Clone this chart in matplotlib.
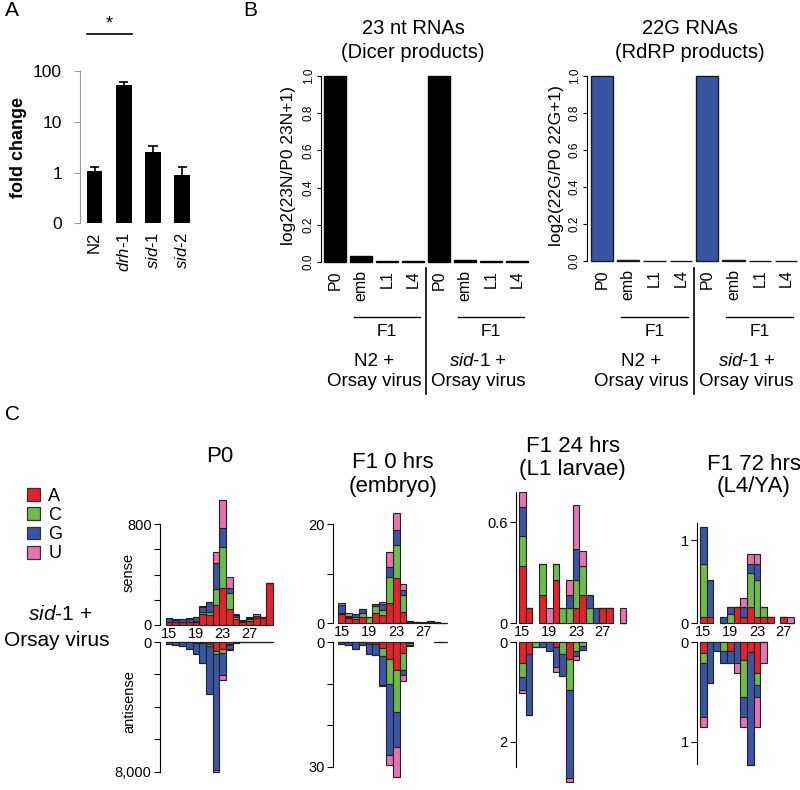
import numpy as np
import matplotlib
matplotlib.use('Agg')
import matplotlib.pyplot as plt
from matplotlib.patches import Patch

plt.rcParams['font.family'] = ['Liberation Sans', 'DejaVu Sans']
plt.rcParams['mathtext.fontset'] = 'custom'
plt.rcParams['mathtext.rm'] = 'Liberation Sans'
plt.rcParams['mathtext.it'] = 'Liberation Sans:italic'
plt.rcParams['mathtext.bf'] = 'Liberation Sans:bold'

# ---------------- data ----------------
# Panel A: fold change (log scale)
a_strains = ['N2', r'$\mathit{drh}$-$\mathit{1}$', r'$\mathit{sid}$-$\mathit{1}$', r'$\mathit{sid}$-$\mathit{2}$']
a_fold_change = [1.05, 53.0, 2.55, 0.88]
a_error_upper = [1.27, 62.0, 3.3, 1.29]

# Panel B
b_stages = ['P0', 'emb', 'L1', 'L4', 'P0', 'emb', 'L1', 'L4']
b_23nt = [1.0, 0.03, 0.005, 0.003, 1.0, 0.012, 0.004, 0.003]
b_22g = [1.0, 0.003, 0.002, 0.002, 1.0, 0.003, 0.002, 0.002]
b_group_top = ['N2 +', r'$\mathit{sid}$-$\mathit{1}$ +']
b_group_bottom = ['Orsay virus', 'Orsay virus']

# Panel C: read length 15..30, rows = A, C, G, U ; nan = no bar
c_lengths = np.arange(15, 31)
c_nucleotides = ['A', 'C', 'G', 'U']
nan = np.nan
p0_sense = [
    [20, 20, 20, 20, 25, 85, 80, 158, 290, 127, 45, 25, 30, 55, 55, 330],
    [5, 5, 5, 5, 6, 18, 26, 125, 330, 124, 15, 5, 20, 0, 5, 0],
    [28, 17, 20, 25, 30, 40, 74, 211, 145, 40, 20, 5, 8, 15, 4, 0],
    [5, 5, 5, 5, 5, 7, 5, 82, 224, 87, 7, 5, 5, 14, 2, 0],
]
p0_antisense = [
    [20, 20, 20, 30, 40, 50, 150, 550, 450, 150, 20, 0, 0, 0, 0, 0],
    [0, 0, 0, 0, 0, 0, 100, 200, 250, 50, 0, 0, 0, 0, 0, 0],
    [100, 140, 230, 420, 700, 1250, 2960, 7150, 1340, 250, 30, 0, 0, 0, 0, 0],
    [0, 0, 0, 0, 0, 0, 0, 100, 310, 50, 0, 0, 0, 0, 0, 0],
]
f1_0h_sense = [
    [1.9, 1.0, 0.8, 1.2, 0, 2.0, 1.7, 4.0, 9.1, 2.3, 0.3, 0.2, 0.1, 0.3, 0.1, 0.1],
    [0.1, 0.3, 0.5, 0.9, 1.2, 1.5, 1.0, 5.4, 6.7, 3.4, 0, 0, 0, 0, 0, 0],
    [1.6, 0.2, 0.6, 0.8, 0, 0.4, 1.1, 2.0, 2.9, 1.1, 0.15, 0.1, 0.1, 0.2, 0.1, 0.05],
    [0.4, 0.5, 0, 0, 0, 0, 0.4, 3.0, 3.6, 1.2, 0, 0, 0, 0, 0, 0],
]
f1_0h_antisense = [
    [0, 0, 0, 0, 0.4, 0.4, 1.5, 4.2, 6.7, 2.7, 0.2, nan, nan, nan, 0, 0],
    [0, 0, 0, 0, 0, 0, 1.8, 5.8, 10.2, 4.0, 0.6, nan, nan, nan, 0, 0],
    [0.5, 0.8, 1.8, 0.8, 2.6, 2.8, 7.0, 17.1, 8.3, 1.2, 0.2, nan, nan, nan, 0, 0],
    [0, 0, 0, 0, 0, 0, 0.4, 2.4, 7.2, 1.6, 0, nan, nan, nan, 0, 0],
]
f1_24h_sense = [
    [0.34, 0.09, nan, 0.17, 0, 0.26, 0, 0, 0.09, 0.17, 0, 0, 0.09, 0.09, nan, 0],
    [0.18, 0, nan, 0.18, 0, 0.09, 0.09, 0.09, 0.17, 0.17, 0.09, 0, 0, 0, nan, 0],
    [0.17, 0, nan, 0, 0, 0, 0, 0.08, 0.18, 0, 0.08, 0.09, 0, 0, nan, 0],
    [0.09, 0, nan, 0, 0.09, 0, 0, 0.09, 0.26, 0.09, 0, 0, 0, 0, nan, 0.09],
]
f1_24h_antisense = [
    [0.42, 0.23, 0, 0, 0, 0.09, 0, 0.34, 0, 0, nan, nan, nan, nan, nan, nan],
    [0.27, 0, 0.09, 0, 0, 0, 0.23, 0.62, 0.17, 0.07, nan, nan, nan, nan, nan, nan],
    [0.26, 1.23, 0, 0.09, 0.17, 0.40, 0.45, 1.77, 0.10, 0.08, nan, nan, nan, nan, nan, nan],
    [0.08, 0, 0, 0, 0, 0.10, 0, 0.08, 0.08, 0, nan, nan, nan, nan, nan, nan],
]
f1_72h_sense = [
    [0.08, 0.08, nan, 0, 0, 0.19, 0.08, 0.19, 0.08, 0.08, 0.08, nan, 0.08, 0, nan, nan],
    [0.63, 0, nan, 0, 0.11, 0, 0, 0.41, 0.44, 0.11, 0, nan, 0, 0, nan, nan],
    [0.45, 0.44, nan, 0.08, 0.08, 0, 0.11, 0.11, 0.19, 0, 0, nan, 0, 0, nan, nan],
    [0, 0, nan, 0, 0, 0, 0.11, 0.12, 0.12, 0, 0, nan, 0, 0.08, nan, nan],
]
f1_72h_antisense = [
    [0.11, 0, 0, 0, 0.09, 0, 0.18, 0.10, 0.31, 0, nan, nan, nan, nan, nan, nan],
    [0.10, 0, 0, 0.09, 0, 0, 0.37, 0, 0.12, 0, nan, nan, nan, nan, nan, nan],
    [0.54, 0.41, 0.09, 0.12, 0.12, 0.21, 0.20, 1.13, 0.12, 0, nan, nan, nan, nan, nan, nan],
    [0.10, 0, 0, 0, 0, 0.10, 0.10, 0, 0.30, 0.21, nan, nan, nan, nan, nan, nan],
]

nt_colors = ['#E8202A', '#6CBD45', '#3A55A4', '#E673AF']
blue_22g = '#3A54A4'

# ---------------- layout helpers ----------------
W, H = 800, 790
fig = plt.figure(figsize=(W / 100, H / 100), dpi=100)


def add_ax(x0, x1, ytop, ybot):
    return fig.add_axes([x0 / W, 1 - ybot / H, (x1 - x0) / W, (ybot - ytop) / H])


def ftxt(x, y, s, **kw):
    kw.setdefault('ha', 'center')
    kw.setdefault('va', 'center')
    return fig.text(x / W, 1 - y / H, s, **kw)


def only_left(ax):
    for s in ['top', 'right', 'bottom']:
        ax.spines[s].set_visible(False)
    ax.patch.set_visible(False)


# ---------------- Panel A ----------------
ftxt(12, 11, 'A', fontsize=15)
A_top, A_bot = 71, 223.3
axA = add_ax(80, 200, A_top, A_bot)
xA = np.arange(len(a_strains))
axA.set_yscale('log')
axA.set_ylim(0.1, 100)
axA.set_xlim(-0.5, 3.61)
axA.bar(xA, np.array(a_fold_change) - 0.1, bottom=0.1, width=0.54, color='black')
axA.vlines(xA, a_fold_change, a_error_upper, color='black', lw=1.2)
axA.hlines(a_error_upper, xA - 0.16, xA + 0.16, color='black', lw=1.2)
only_left(axA)
axA.spines['left'].set_color('#9a9a9a')
axA.spines['left'].set_bounds(0.1, 100)
axA.set_yticks([0.1, 1, 10, 100], ['0', '1', '10', '100'])
axA.yaxis.set_minor_locator(matplotlib.ticker.NullLocator())
axA.tick_params(axis='y', length=4, color='#9a9a9a', labelsize=12.5, pad=9)
axA.set_xticks(xA, a_strains, rotation=90, fontsize=12)
axA.tick_params(axis='x', length=0, pad=6)
yfA = lambda y: (A_bot - y) / (A_bot - A_top)
axA.plot([-0.26, 1.28], [yfA(33.5)] * 2, color='black', lw=1.2,
         transform=axA.get_xaxis_transform(), clip_on=False)
axA.text(0.5, yfA(24), '*', transform=axA.get_xaxis_transform(), ha='center', va='center', fontsize=13)
axA.text((19 - 80) / 120, 0.5, 'fold change', transform=axA.transAxes, rotation=90,
         ha='center', va='center', fontsize=13, fontweight='bold')

# ---------------- Panel B ----------------
ftxt(250, 11, 'B', fontsize=15)


def panel_b(x0, x1, top, bot, idx0_px, step, vals, color, edge, title, ylabel, ylab_x):
    ax = add_ax(x0, x1, top, bot)
    pos = np.arange(len(b_stages))
    ax.set_xlim((x0 - idx0_px) / step, (x1 - idx0_px) / step)
    ax.set_ylim(0, 1.0)
    ax.bar(pos, vals, width=0.85, color=color, edgecolor=edge, lw=1.0, clip_on=False)
    only_left(ax)
    ax.spines['left'].set_bounds(0, 1.0)
    ax.set_yticks(np.linspace(0, 1, 6), ['0.0', '0.2', '0.4', '0.6', '0.8', '1.0'],
                  rotation=90, va='center')
    ax.tick_params(axis='y', length=3, labelsize=8.5, pad=1.5)
    ax.set_xticks(pos, b_stages, rotation=90, fontsize=11.5)
    ax.tick_params(axis='x', length=0, pad=6)
    yf = lambda y: (bot - y) / (bot - top)
    tr = ax.get_xaxis_transform()
    for g in range(2):
        c = 4 * g
        ax.plot([c + 0.72, c + 3.28], [yf(317)] * 2, color='black', lw=1.0, transform=tr, clip_on=False)
        ax.text(c + 2, yf(331), 'F1', transform=tr, ha='center', va='center', fontsize=12.5)
        ax.text(c + 1.5, yf(361), b_group_top[g], transform=tr, ha='center', va='center', fontsize=13.5)
        ax.text(c + 1.5, yf(382), b_group_bottom[g], transform=tr, ha='center', va='center', fontsize=13.5)
    ax.plot([3.5, 3.5], [yf(268), yf(394)], color='black', lw=1.2, transform=tr, clip_on=False)
    ftxt(title[2], 29, title[0], fontsize=14.5)
    ftxt(title[2], 53, title[1], fontsize=14.5)
    ftxt(ylab_x, 166, ylabel, rotation=90, fontsize=12.5)
    return ax


panel_b(321, 531, 76, 262, 335, 26.0, b_23nt, 'black', 'black',
        ('23 nt RNAs', '(Dicer products)', 413), 'log2(23N/P0 23N+1)', 289)
panel_b(587, 798, 76, 261, 602, 26.3, b_22g, blue_22g, '#1a1a1a',
        ('22G RNAs', '(RdRP products)', 690), 'log2(22G/P0 22G+1)', 557)

# ---------------- Panel C ----------------
ftxt(12, 414, 'C', fontsize=15)
handles = [Patch(facecolor=c, edgecolor='#333333', lw=0.9) for c in nt_colors]
fig.legend(handles, c_nucleotides, loc='upper left', bbox_to_anchor=(27 / W, 1 - 488 / H),
           frameon=False, fontsize=13, handlelength=0.72, handleheight=0.72,
           handletextpad=0.45, labelspacing=0.12, borderpad=0, borderaxespad=0)
ftxt(60, 615, r'$\mathit{sid}$-$\mathit{1}$ +', fontsize=15)
ftxt(57, 640, 'Orsay virus', fontsize=15)


def stacked(ax, comp):
    comp = np.array(comp, dtype=float)
    valid = ~np.isnan(comp[0])
    bottom = np.zeros(len(c_lengths))
    for i in range(4):
        h = np.nan_to_num(comp[i])
        ax.bar(c_lengths[valid], h[valid], bottom=bottom[valid], width=1.0,
               color=nt_colors[i], edgecolor='#222222', lw=0.8, clip_on=False)
        bottom = bottom + h


def panel_c(spine, start, w, sense, anti, s_zero, s_ref, s_refpx, s_max, s_ticks, s_labels,
            a_zero, a_ref, a_refpx, a_max, a_ticks, a_labels, titles, ylabels=False):
    x1 = start + 16 * w
    xl = (14.5 - (start - spine) / w, 30.5)
    axs = add_ax(spine, x1, s_refpx, s_zero)
    axs.set_xlim(*xl)
    axs.set_ylim(0, s_ref)
    stacked(axs, sense)
    only_left(axs)
    axs.spines['left'].set_bounds(0, s_max)
    axs.set_yticks(s_ticks, s_labels)
    axs.tick_params(axis='y', length=4, labelsize=10.5, pad=2)
    axs.set_xticks([15, 19, 23, 27], ['15', '19', '23', '27'])
    axs.tick_params(axis='x', length=0, labelsize=10.5, pad=1.5)

    axa = add_ax(spine, x1, a_zero, a_refpx)
    axa.set_xlim(*xl)
    axa.set_ylim(a_ref, 0)
    stacked(axa, anti)
    only_left(axa)
    axa.spines['left'].set_bounds(0, a_max)
    axa.set_yticks(a_ticks, a_labels)
    axa.tick_params(axis='y', length=4, labelsize=10.5, pad=2)
    axa.set_xticks([])
    cx = start + 8 * w
    for (txt, y) in titles:
        ftxt(cx, y, txt, fontsize=16)
    if ylabels:
        ftxt(129, 572, 'sense', rotation=90, fontsize=10.5)
        ftxt(129, 702, 'antisense', rotation=90, fontsize=10.5)


panel_c(160, 165.7, 6.7, p0_sense, p0_antisense,
        625, 800, 524, 800, [0, 200, 400, 600, 800], ['0', '', '', '', '800'],
        642, 8000, 771.7, 8000, [0, 2000, 4000, 6000, 8000], ['0', '', '', '', '8,000'],
        [('P0', 457)], ylabels=True)
panel_c(332.7, 338.3, 6.8, f1_0h_sense, f1_0h_antisense,
        623.3, 20, 524, 20, [0, 10, 20], ['0', '', '20'],
        642, 30, 766.7, 30, [0, 10, 20, 30], ['0', '', '', '30'],
        [('F1 0 hrs', 462), ('(embryo)', 487)])
panel_c(515.7, 519, 6.7, f1_24h_sense, f1_24h_antisense,
        623.3, 0.6, 522.3, 0.78, [0, 0.6], ['0', '0.6'],
        642.3, 2, 741.7, 2.5, [0, 2], ['0', '2'],
        [('F1 24 hrs', 446), ('(L1 larvae)', 470)])
panel_c(697.3, 700, 6.7, f1_72h_sense, f1_72h_antisense,
        623.3, 1, 540, 1.2, [0, 1], ['0', '1'],
        642.3, 1, 741.7, 1.22, [0, 1], ['0', '1'],
        [('F1 72 hrs', 465), ('(L4/YA)', 487)])

fig.savefig('out.png', dpi=100)
